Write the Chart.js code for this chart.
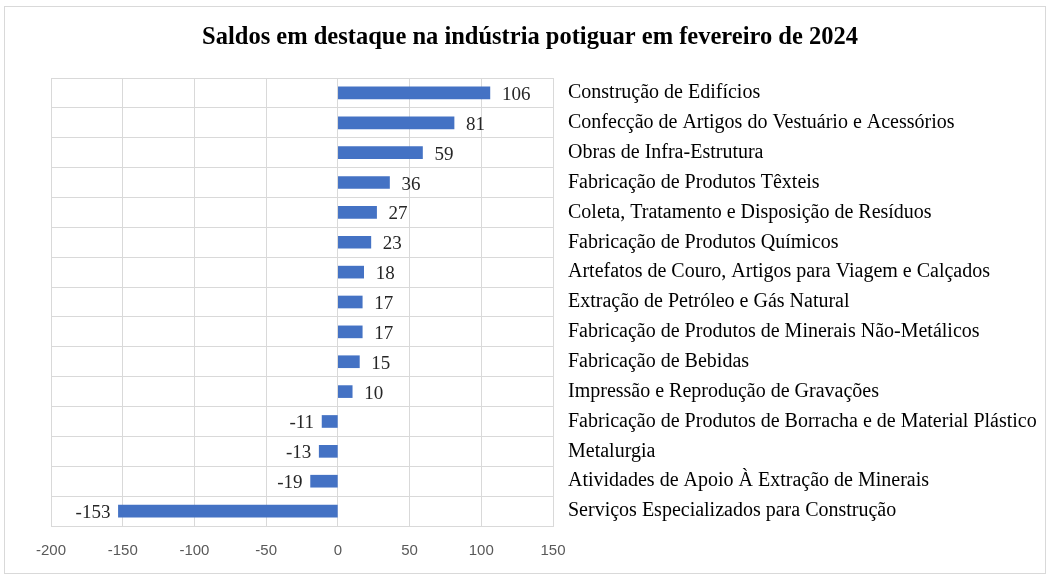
<!DOCTYPE html>
<html>
<head>
<meta charset="utf-8">
<script src="https://cdn.jsdelivr.net/npm/chart.js@4/dist/chart.umd.min.js"></script>
<style>
  html, body { margin: 0; padding: 0; background: #fff; }
  #frame { position: absolute; left: 4px; top: 6px; width: 1040px; height: 566px; border: 1px solid #d9d9d9; }
  #wrap { position: absolute; left: 0; top: 0; width: 1046px; height: 574px; }
</style>
</head>
<body>
<div id="frame"></div>
<div id="wrap"><canvas id="chart"></canvas></div>
<script>
const categories = [
    'Construção de Edifícios',
    'Confecção de Artigos do Vestuário e Acessórios',
    'Obras de Infra-Estrutura',
    'Fabricação de Produtos Têxteis',
    'Coleta, Tratamento e Disposição de Resíduos',
    'Fabricação de Produtos Químicos',
    'Artefatos de Couro, Artigos para Viagem e Calçados',
    'Extração de Petróleo e Gás Natural',
    'Fabricação de Produtos de Minerais Não-Metálicos',
    'Fabricação de Bebidas',
    'Impressão e Reprodução de Gravações',
    'Fabricação de Produtos de Borracha e de Material Plástico',
    'Metalurgia',
    'Atividades de Apoio À Extração de Minerais',
    'Serviços Especializados para Construção'
];
const saldos = [106, 81, 59, 36, 27, 23, 18, 17, 17, 15, 10, -11, -13, -19, -153];
const xMin = -200;
const xMax = 150;
const xStep = 50;
const titleText = 'Saldos em destaque na indústria potiguar em fevereiro de 2024';

const serif = '"Liberation Serif", "Times New Roman", serif';

// title centred on the whole frame, not on the padded chart box
const frameTitle = {
    id: 'frameTitle',
    afterDraw(chart) {
        const ctx = chart.ctx;
        ctx.save();
        ctx.font = 'bold 24.5px ' + serif;
        ctx.fillStyle = '#000';
        ctx.textAlign = 'center';
        ctx.textBaseline = 'middle';
        ctx.fillText(titleText, 530, 38);
        ctx.restore();
    }
};

// draws the value next to the end of each bar
const valueLabels = {
    id: 'valueLabels',
    afterDatasetsDraw(chart) {
        const ctx = chart.ctx;
        const meta = chart.getDatasetMeta(0);
        ctx.save();
        ctx.font = '19px ' + serif;
        ctx.fillStyle = '#262626';
        ctx.textBaseline = 'middle';
        meta.data.forEach((bar, i) => {
            const v = saldos[i];
            if (v >= 0) {
                ctx.textAlign = 'left';
                ctx.fillText(String(v), bar.x + 12, bar.y + 2);
            } else {
                ctx.textAlign = 'right';
                ctx.fillText(String(v), bar.x - 8, bar.y + 2);
            }
        });
        ctx.restore();
    }
};

new Chart(document.getElementById('chart'), {
    type: 'bar',
    data: {
        labels: categories,
        datasets: [{
            data: saldos,
            backgroundColor: '#4472C4',
            barThickness: 12
        }]
    },
    options: {
        indexAxis: 'y',
        responsive: true,
        maintainAspectRatio: false,
        animation: false,
        layout: { padding: { left: 51, right: 0, top: 78, bottom: -2 } },
        plugins: {
            legend: { display: false },
            tooltip: { enabled: false },
            title: { display: false }
        },
        scales: {
            x: {
                min: xMin,
                max: xMax,
                ticks: {
                    stepSize: xStep,
                    color: '#595959',
                    font: { family: '"Liberation Sans", Arial, sans-serif', size: 15 },
                    padding: 16
                },
                grid: { color: '#d9d9d9', drawTicks: false },
                border: { display: false }
            },
            y: {
                position: 'right',
                ticks: {
                    color: '#000',
                    font: { family: serif, size: 20 },
                    padding: 15
                },
                grid: { color: '#d9d9d9', drawTicks: false, offset: true },
                border: { color: '#d9d9d9' },
                afterFit(scale) { scale.width = 493; }
            }
        }
    },
    plugins: [valueLabels, frameTitle]
});
</script>
</body>
</html>
